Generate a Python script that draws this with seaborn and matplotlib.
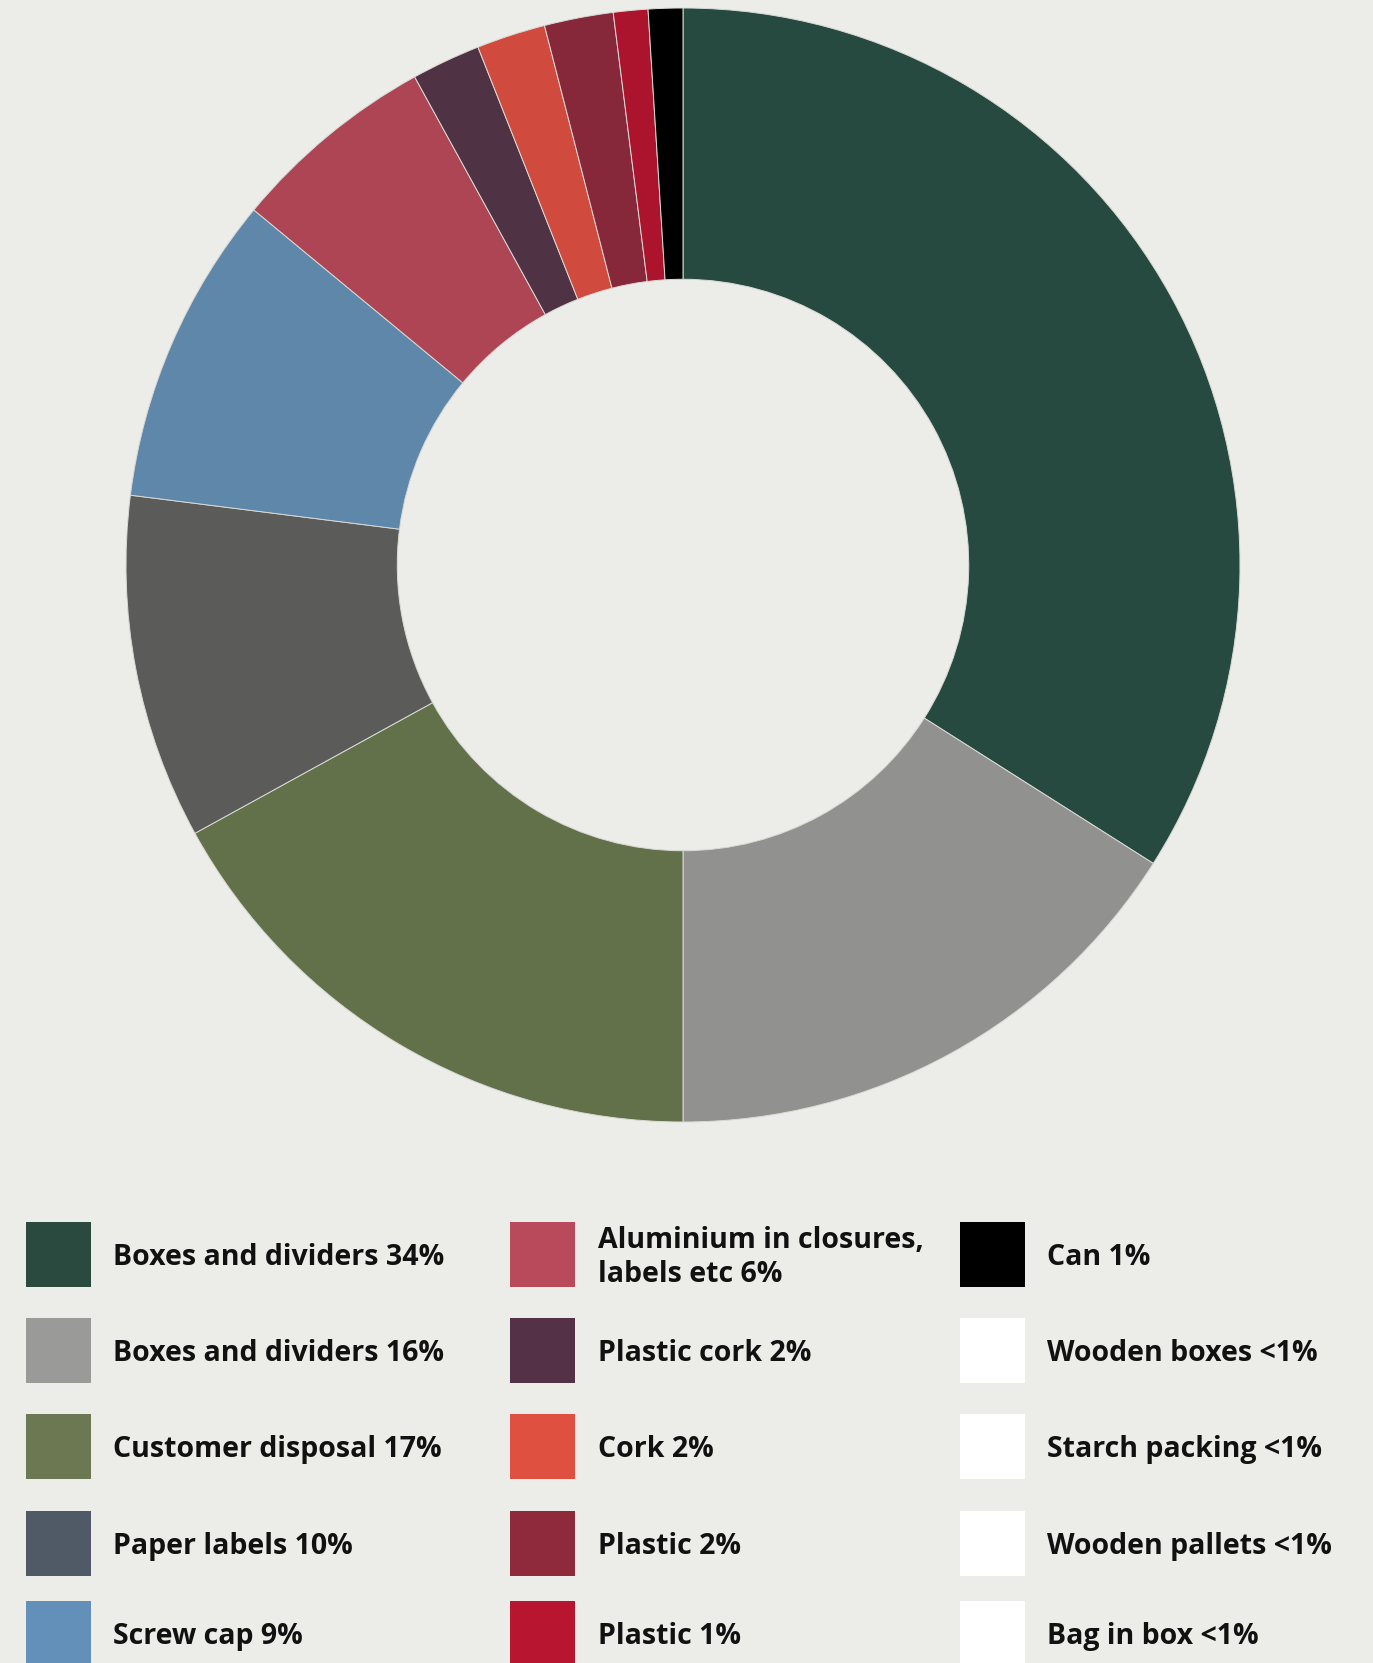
import matplotlib
matplotlib.use("Agg")
import matplotlib.pyplot as plt
from matplotlib.patches import Rectangle
import seaborn as sns

# Packaging footprint shares (wedges drawn clockwise from 12 o'clock)
wedge_labels = [
    "Boxes and dividers", "Boxes and dividers", "Customer disposal", "Paper labels",
    "Screw cap", "Aluminium in closures, labels etc", "Plastic cork", "Cork",
    "Plastic", "Plastic", "Can",
]
wedge_shares = [34, 16, 17, 10, 9, 6, 2, 2, 2, 1, 1]
wedge_colors = [
    "#264a40", "#919190", "#63714b", "#5b5b59", "#5f87aa", "#ad4555",
    "#4f3244", "#d04b3e", "#86283a", "#ac132d", "#000000",
]

# Legend entries, laid out column by column
legend_labels = [
    "Boxes and dividers 34%", "Boxes and dividers 16%", "Customer disposal 17%",
    "Paper labels 10%", "Screw cap 9%",
    "Aluminium in closures,\nlabels etc 6%", "Plastic cork 2%", "Cork 2%",
    "Plastic 2%", "Plastic 1%",
    "Can 1%", "Wooden boxes <1%", "Starch packing <1%", "Wooden pallets <1%",
    "Bag in box <1%",
]
legend_colors = [
    "#2a4a40", "#9a9a98", "#6b7852", "#505a66", "#6290b8",
    "#b84a5c", "#553148", "#e05040", "#8e2a3c", "#b81530",
    "#000000", "#ffffff", "#ffffff", "#ffffff", "#ffffff",
]

sns.set_theme(style="white")
plt.rcParams["font.family"] = ["Open Sans", "DejaVu Sans"]

W, H = 1373, 1663
BG = "#ecece9"
fig = plt.figure(figsize=(W / 100, H / 100), dpi=100, facecolor=BG)

# Donut
cx, cy, r = 683, 565, 557
ax = fig.add_axes([(cx - r) / W, (H - cy - r) / H, 2 * r / W, 2 * r / H])
ax.set_facecolor("none")
palette = sns.color_palette(wedge_colors)
ax.pie(
    wedge_shares,
    colors=palette,
    startangle=90,
    counterclock=False,
    radius=1.0,
    wedgeprops=dict(width=0.487, edgecolor="#d9d9d6", linewidth=0.7),
)
ax.set_xlim(-1, 1)
ax.set_ylim(-1, 1)
ax.set_aspect("equal")
ax.axis("off")

# Legend in pixel coordinates
lax = fig.add_axes([0, 0, 1, 1])
lax.set_xlim(0, W)
lax.set_ylim(H, 0)
lax.axis("off")
lax.set_facecolor("none")

col_x = [26, 510, 960]
text_x = [113, 598, 1047]
row_y = [1222, 1318, 1414, 1511, 1601]
sq = 65
for i, (lab, col) in enumerate(zip(legend_labels, legend_colors)):
    c, rr = divmod(i, 5)
    x0, y0 = col_x[c], row_y[rr]
    lax.add_patch(Rectangle((x0, y0), sq, sq, facecolor=col, edgecolor="none"))
    lax.text(text_x[c], y0 + sq / 2 + 3, lab, fontsize=20.5, fontweight="bold",
             color="#111111", va="center", ha="left", linespacing=1.2)

fig.savefig("out.png", dpi=100, facecolor=BG)
